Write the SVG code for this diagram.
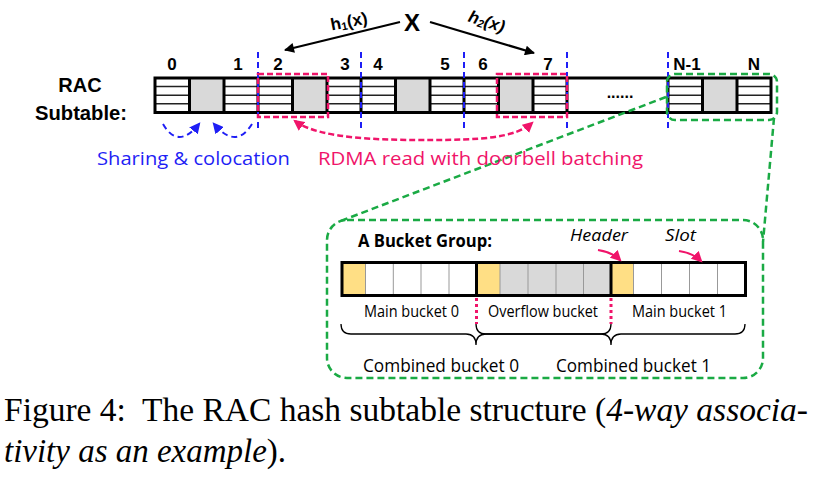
<svg xmlns="http://www.w3.org/2000/svg" width="815" height="477" viewBox="0 0 815 477">
<defs>
<style>
.lbl{font-family:"Liberation Sans",Arial,sans-serif;font-weight:bold;font-size:17px;fill:#000;text-anchor:middle}
.blue{stroke:#1f1ff5;stroke-width:2;stroke-dasharray:6 4;fill:none}
.pinkd{stroke:#f0146a;stroke-width:2.5;stroke-dasharray:6 3;fill:none}
.green{stroke:#1aaa44;stroke-width:2.5;stroke-dasharray:7 4;fill:none}
.row{stroke:#222;stroke-width:1.5}
.vl{stroke:#000;stroke-width:3}
.thin{stroke:#999;stroke-width:1}
.os{font-family:"Open Sans","Liberation Sans",sans-serif}
</style>
<marker id="abk" viewBox="0 0 10 10" refX="9" refY="5" markerWidth="14" markerHeight="10" orient="auto" markerUnits="userSpaceOnUse"><path d="M0,0 L10,5 L0,10 z" fill="#000"/></marker>
<marker id="abl" viewBox="0 0 10 10" refX="8" refY="5" markerWidth="11" markerHeight="11" orient="auto-start-reverse" markerUnits="userSpaceOnUse"><path d="M0,0 L10,5 L0,10 z" fill="#1f1ff5"/></marker>
<marker id="apk" viewBox="0 0 10 10" refX="8" refY="5" markerWidth="11" markerHeight="11" orient="auto-start-reverse" markerUnits="userSpaceOnUse"><path d="M0,0 L10,5 L0,10 z" fill="#f0146a"/></marker>
</defs>
<rect width="815" height="477" fill="#fff"/>

<g id="title-labels">
<text x="80" y="92" font-family="Liberation Sans,Arial,sans-serif" font-weight="bold" font-size="20" text-anchor="middle">RAC</text>
<text x="81" y="120" font-family="Liberation Sans,Arial,sans-serif" font-weight="bold" font-size="20" text-anchor="middle" textLength="92" lengthAdjust="spacingAndGlyphs">Subtable:</text>
</g>

<g id="subtable">
<rect x="155" y="78" width="616" height="34.5" fill="#fff"/>
<g class="row">
<line x1="155" y1="86.6" x2="567" y2="86.6"/><line x1="155" y1="95.2" x2="567" y2="95.2"/><line x1="155" y1="103.8" x2="567" y2="103.8"/>
<line x1="668" y1="86.6" x2="771" y2="86.6"/><line x1="668" y1="95.2" x2="771" y2="95.2"/><line x1="668" y1="103.8" x2="771" y2="103.8"/>
</g>
<g fill="#d9d9d9">
<rect x="189.5" y="78" width="34.5" height="34.5"/><rect x="292.5" y="78" width="34.5" height="34.5"/><rect x="395.5" y="78" width="34.5" height="34.5"/><rect x="498.5" y="78" width="34.5" height="34.5"/><rect x="702.5" y="78" width="34.5" height="34.5"/>
</g>
<g class="vl">
<line x1="189.5" y1="78" x2="189.5" y2="112.5"/><line x1="224" y1="78" x2="224" y2="112.5"/><line x1="258" y1="78" x2="258" y2="112.5"/><line x1="292.5" y1="78" x2="292.5" y2="112.5"/><line x1="327" y1="78" x2="327" y2="112.5"/><line x1="361" y1="78" x2="361" y2="112.5"/><line x1="395.5" y1="78" x2="395.5" y2="112.5"/><line x1="430" y1="78" x2="430" y2="112.5"/><line x1="464" y1="78" x2="464" y2="112.5"/><line x1="498.5" y1="78" x2="498.5" y2="112.5"/><line x1="533" y1="78" x2="533" y2="112.5"/><line x1="567" y1="78" x2="567" y2="112.5"/><line x1="668" y1="78" x2="668" y2="112.5"/><line x1="702.5" y1="78" x2="702.5" y2="112.5"/><line x1="737" y1="78" x2="737" y2="112.5"/>
</g>
<rect x="155" y="78" width="616" height="34.5" fill="none" stroke="#000" stroke-width="3"/>
<text x="620" y="98" font-family="Liberation Sans,Arial,sans-serif" font-weight="bold" font-size="16" text-anchor="middle">......</text>
</g>

<g id="indices">
<text class="lbl" x="172" y="70">0</text><text class="lbl" x="238" y="70">1</text>
<text class="lbl" x="278" y="70">2</text><text class="lbl" x="345" y="70">3</text>
<text class="lbl" x="378" y="70">4</text><text class="lbl" x="445" y="70">5</text>
<text class="lbl" x="483" y="70">6</text><text class="lbl" x="548" y="70">7</text>
<text class="lbl" x="687" y="70">N-1</text><text class="lbl" x="754" y="70">N</text>
</g>

<g id="key-x">
<text x="412" y="31" font-family="Liberation Sans,Arial,sans-serif" font-weight="bold" font-size="24" text-anchor="middle">X</text>
<text transform="translate(350,27) rotate(-11)" font-family="Liberation Sans,Arial,sans-serif" font-weight="bold" font-size="17" text-anchor="middle">h<tspan font-size="11" dy="2">1</tspan><tspan dy="-2">(x)</tspan></text>
<text transform="translate(485,27) rotate(18)" font-family="Liberation Sans,Arial,sans-serif" font-weight="bold" font-style="italic" font-size="17" text-anchor="middle">h<tspan font-size="11" dy="2">2</tspan><tspan dy="-2">(x)</tspan></text>
</g>

<g id="bucket-group">
<rect x="342" y="262.5" width="403.5" height="33" fill="#fff"/>
<g fill="#ffdf85"><rect x="342" y="262.5" width="23.5" height="33"/><rect x="476.5" y="262.5" width="23.5" height="33"/><rect x="611" y="262.5" width="22.5" height="33"/></g>
<rect x="500" y="262.5" width="111" height="33" fill="#d9d9d9"/>
<g class="thin">
<line x1="365.5" y1="262.5" x2="365.5" y2="295.5"/><line x1="393.3" y1="262.5" x2="393.3" y2="295.5"/><line x1="421" y1="262.5" x2="421" y2="295.5"/><line x1="449" y1="262.5" x2="449" y2="295.5"/>
<line x1="500" y1="262.5" x2="500" y2="295.5"/><line x1="528" y1="262.5" x2="528" y2="295.5"/><line x1="556" y1="262.5" x2="556" y2="295.5"/><line x1="583.5" y1="262.5" x2="583.5" y2="295.5"/>
<line x1="633.5" y1="262.5" x2="633.5" y2="295.5"/><line x1="661.5" y1="262.5" x2="661.5" y2="295.5"/><line x1="689.5" y1="262.5" x2="689.5" y2="295.5"/><line x1="717.5" y1="262.5" x2="717.5" y2="295.5"/>
</g>
<line class="vl" x1="476.5" y1="262.5" x2="476.5" y2="295.5"/><line class="vl" x1="611" y1="262.5" x2="611" y2="295.5"/>
<rect x="342" y="262.5" width="403.5" height="33" fill="none" stroke="#000" stroke-width="3"/>
<text class="os" x="358" y="247" font-weight="bold" font-size="18" textLength="134" lengthAdjust="spacingAndGlyphs">A Bucket Group:</text>
<text class="os" x="570" y="241" font-style="italic" font-size="17" textLength="58" lengthAdjust="spacingAndGlyphs">Header</text>
<text class="os" x="665" y="241" font-style="italic" font-size="17" textLength="31" lengthAdjust="spacingAndGlyphs">Slot</text>
<text class="os" x="364" y="317" font-size="16" textLength="95" lengthAdjust="spacingAndGlyphs">Main bucket 0</text>
<text class="os" x="488" y="317" font-size="16" textLength="110" lengthAdjust="spacingAndGlyphs">Overflow bucket</text>
<text class="os" x="632" y="317" font-size="16" textLength="95" lengthAdjust="spacingAndGlyphs">Main bucket 1</text>
<g stroke="#f0146a" stroke-width="3" stroke-dasharray="3 3"><line x1="476.5" y1="298" x2="476.5" y2="324"/><line x1="611" y1="298" x2="611" y2="324"/></g>
<g fill="none" stroke="#000" stroke-width="1.3">
<path d="M341,324 Q341,334 351,334 L466,334 Q476,334 476,345 Q476,334 486,334 L601,334 Q611,334 611,324"/>
<path d="M476,324 Q476,334 486,334 L601,334 Q611,334 611,345 Q611,334 621,334 L735,334 Q745,334 745,324"/>
</g>
<text class="os" x="363" y="372" font-size="19" textLength="156" lengthAdjust="spacingAndGlyphs">Combined bucket 0</text>
<text class="os" x="556" y="372" font-size="19" textLength="155" lengthAdjust="spacingAndGlyphs">Combined bucket 1</text>
<rect x="327" y="220" width="436" height="158" rx="20" class="green"/>
</g>

<g id="connectors">
<line x1="400" y1="22" x2="285" y2="50" stroke="#000" stroke-width="2.2" marker-end="url(#abk)"/>
<line x1="430" y1="22" x2="534" y2="53" stroke="#000" stroke-width="2.2" marker-end="url(#abk)"/>
<g class="blue"><line x1="258" y1="52" x2="258" y2="130"/><line x1="361" y1="52" x2="361" y2="130"/><line x1="464" y1="52" x2="464" y2="130"/><line x1="567" y1="52" x2="567" y2="130"/><line x1="668" y1="52" x2="668" y2="130"/></g>
<rect class="pinkd" x="258" y="74" width="70" height="43"/>
<rect class="pinkd" x="497" y="74" width="70" height="43"/>
<rect class="green" x="667" y="74" width="110" height="46" rx="8"/>
<path class="blue" d="M163,124 Q178,150 199,124" marker-end="url(#abl)"/>
<path class="blue" d="M252,124 Q236,150 214,124" marker-end="url(#abl)"/>
<path class="pinkd" d="M295,121 C320,140 390,140 430,140 C480,140 515,138 532,123" marker-start="url(#apk)" marker-end="url(#apk)"/>
<line class="green" x1="666" y1="97" x2="338" y2="222"/>
<line class="green" x1="774" y1="118" x2="763" y2="242"/>
<path d="M598,250 Q612,252 620,260" fill="none" stroke="#f0146a" stroke-width="2" marker-end="url(#apk)"/>
<path d="M679,251 Q693,253 701,261" fill="none" stroke="#f0146a" stroke-width="2" marker-end="url(#apk)"/>
</g>

<g id="annotations">
<text class="os" x="97" y="165" font-size="19" fill="#1f1ff5" textLength="193" lengthAdjust="spacingAndGlyphs">Sharing &amp; colocation</text>
<text class="os" x="318" y="165" font-size="19" fill="#f0146a" textLength="325" lengthAdjust="spacingAndGlyphs">RDMA read with doorbell batching</text>
</g>

<g id="caption" font-family="Liberation Serif,Times New Roman,serif" font-size="34">
<text x="4" y="421" textLength="804" lengthAdjust="spacingAndGlyphs">Figure 4:&#160; The RAC hash subtable structure (<tspan font-style="italic">4-way associa-</tspan></text>
<text x="4" y="462" textLength="282" lengthAdjust="spacingAndGlyphs"><tspan font-style="italic">tivity as an example</tspan>).</text>
</g>
</svg>
